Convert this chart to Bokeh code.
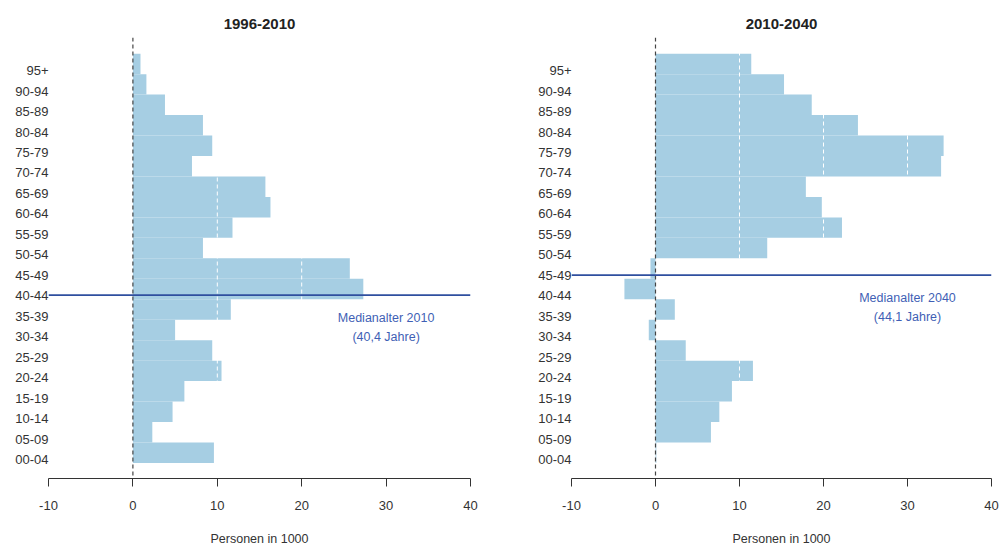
import numpy as np
from bokeh.plotting import figure
from bokeh.layouts import row
from bokeh.models import FixedTicker, Span, Label, Range1d, LinearAxis
from bokeh.embed import file_html
from bokeh.resources import INLINE

# ---- data ----
age_groups = ["00-04", "05-09", "10-14", "15-19", "20-24", "25-29", "30-34", "35-39",
              "40-44", "45-49", "50-54", "55-59", "60-64", "65-69", "70-74", "75-79",
              "80-84", "85-89", "90-94", "95+"]
change_1996_2010 = [9.6, 2.3, 4.7, 6.1, 10.5, 9.4, 5.0, 11.6, 27.3, 25.7,
                    8.3, 11.8, 16.3, 15.7, 7.0, 9.4, 8.3, 3.8, 1.6, 0.9]
change_2010_2040 = [0.1, 6.6, 7.6, 9.1, 11.6, 3.6, -0.8, 2.3, -3.7, -0.6,
                    13.3, 22.2, 19.8, 17.9, 34.0, 34.3, 24.1, 18.6, 15.3, 11.4]
panel_titles = ["1996-2010", "2010-2040"]
median_years = ["2010", "2040"]
median_ages = ["40,4", "44,1"]
median_line_pos = [8.03, 9.01]   # position on the age-group axis
x_ticks = [-10, 0, 10, 20, 30, 40]
x_tick_labels = ["-10", "0", "10", "20", "30", "40"]
grid_vals = [10, 20, 30]
x_label = "Personen in 1000"

BAR = "#a6cee3"
BLUE_LINE = "#2f4f9f"
BLUE_TEXT = "#3f5fb5"
TXT = "#333333"
FONT = "Liberation Sans"

Y_LO, Y_HI = -0.93, 20.62

def make_panel(values, title, med_pos, year, age, width, bl, br):
    p = figure(width=width, height=548, output_backend="svg", toolbar_location=None,
               x_range=Range1d(-10, 40), y_range=Range1d(Y_LO, Y_HI),
               min_border_left=bl, min_border_right=br,
               min_border_top=37, min_border_bottom=70)
    p.outline_line_color = None
    p.xgrid.grid_line_color = None
    p.ygrid.grid_line_color = None
    p.background_fill_color = "white"
    p.border_fill_color = "white"

    idx = np.arange(len(age_groups))
    p.hbar(y=idx + 0.33, left=0, right=values, height=1.0,
           fill_color=BAR, line_color=None)

    for g in grid_vals:
        p.add_layout(Span(location=g, dimension="height", line_color="white",
                          line_dash="4 3", line_width=1))
    p.add_layout(Span(location=0, dimension="height", line_color="#444444",
                      line_dash="4 3", line_width=1.2))
    p.add_layout(Span(location=med_pos, dimension="width", line_color=BLUE_LINE,
                      line_width=1.8))
    p.add_layout(Label(x=30, y=med_pos - 1.1, text="Medianalter " + year,
                       text_align="center", text_baseline="middle",
                       text_font=FONT, text_font_size="12.5px", text_color=BLUE_TEXT))
    p.add_layout(Label(x=30, y=med_pos - 2.05, text="(" + age + " Jahre)",
                       text_align="center", text_baseline="middle",
                       text_font=FONT, text_font_size="12.5px", text_color=BLUE_TEXT))

    # invisible spacer axis above the frame to lift the title a little
    spacer = LinearAxis(ticker=FixedTicker(ticks=[15]), axis_line_color=None,
                        major_tick_line_color=None, minor_tick_line_color=None,
                        major_tick_out=4, major_tick_in=0, minor_tick_out=0,
                        major_label_standoff=0,
                        major_label_overrides={15: " "},
                        major_label_text_font_size="1px",
                        major_label_text_color=None)
    p.add_layout(spacer, "above")

    p.title.text = title
    p.title.align = "center"
    p.title.text_font = FONT
    p.title.text_font_size = "15px"
    p.title.text_font_style = "bold"
    p.title.text_color = "#222222"

    xa = p.below[0]
    xa.ticker = FixedTicker(ticks=x_ticks)
    xa.major_label_overrides = {t: s for t, s in zip(x_ticks, x_tick_labels)}
    xa.axis_line_color = TXT
    xa.major_tick_line_color = TXT
    xa.major_tick_out = 8
    xa.major_tick_in = 0
    xa.minor_tick_line_color = None
    xa.minor_tick_out = 0
    xa.major_label_text_font = FONT
    xa.major_label_text_font_size = "13px"
    xa.major_label_text_color = TXT
    xa.major_label_standoff = 14
    xa.axis_label = x_label
    xa.axis_label_text_font = FONT
    xa.axis_label_text_font_size = "12.5px"
    xa.axis_label_text_font_style = "normal"
    xa.axis_label_text_color = TXT
    xa.axis_label_standoff = 19

    ya = p.yaxis[0]
    ya.ticker = FixedTicker(ticks=list(range(len(age_groups))))
    ya.major_label_overrides = {i: lab for i, lab in enumerate(age_groups)}
    ya.axis_line_color = None
    ya.major_tick_line_color = None
    ya.major_tick_out = 0
    ya.major_tick_in = 0
    ya.minor_tick_line_color = None
    ya.minor_tick_out = 0
    ya.major_label_standoff = 0
    ya.major_label_text_font = FONT
    ya.major_label_text_font_size = "13px"
    ya.major_label_text_color = TXT
    return p

p1 = make_panel(change_1996_2010, panel_titles[0], median_line_pos[0],
                median_years[0], median_ages[0], 520, 48, 50)
p2 = make_panel(change_2010_2040, panel_titles[1], median_line_pos[1],
                median_years[1], median_ages[1], 482, 51, 11)

layout = row(p1, p2)
open("out.html", "w").write(file_html(layout, INLINE))
